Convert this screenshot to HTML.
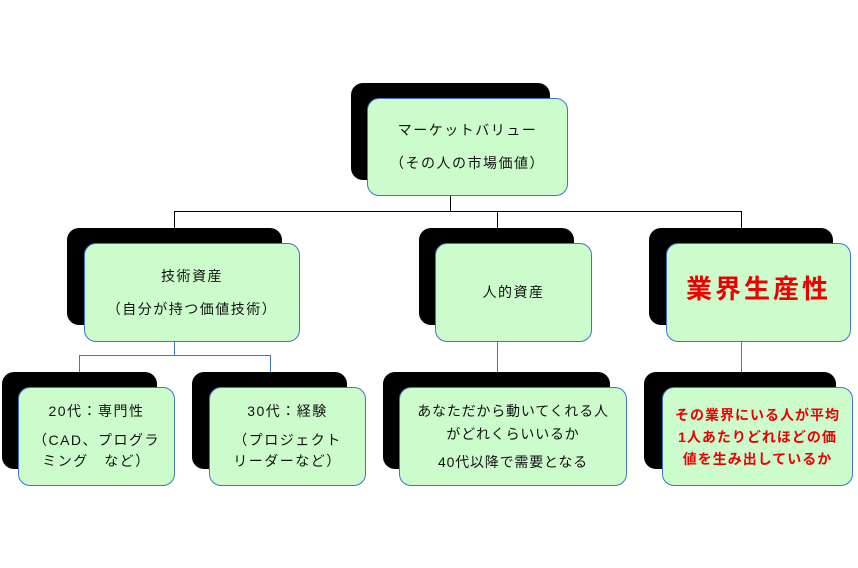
<!DOCTYPE html>
<html><head><meta charset="utf-8"><style>
body{margin:0;width:858px;height:568px;background:#fff;position:relative;overflow:hidden;font-family:"Liberation Sans","Noto Sans CJK JP",sans-serif;}
.b{position:absolute;background:#000;border-radius:12px;}
.g{position:absolute;background:#ccfccc;border:1px solid #4472c4;border-radius:12px;box-sizing:border-box;display:flex;flex-direction:column;justify-content:center;align-items:center;text-align:center;font-size:14px;color:#111;letter-spacing:1.5px;line-height:21px;}
.l{position:absolute;background:#4472c4;}
.k{position:absolute;background:#000;}
.r{color:#e00;font-weight:bold;}
</style></head><body>
<div class="k" style="left:450px;top:196px;width:1px;height:16px"></div>
<div class="k" style="left:174px;top:211px;width:568px;height:1px"></div>
<div class="k" style="left:174px;top:211px;width:1px;height:32px"></div>
<div class="k" style="left:497px;top:211px;width:1px;height:32px"></div>
<div class="k" style="left:741px;top:211px;width:1px;height:17px"></div>
<div class="l" style="left:174px;top:341px;width:1px;height:14px"></div>
<div class="l" style="left:79px;top:355px;width:192px;height:1px"></div>
<div class="l" style="left:79px;top:355px;width:1px;height:17px"></div>
<div class="l" style="left:270px;top:355px;width:1px;height:17px"></div>
<div class="l" style="left:497px;top:341px;width:1px;height:31px"></div>
<div class="l" style="left:741px;top:342px;width:1px;height:30px"></div>

<div class="b" style="left:351px;top:83px;width:199px;height:97px"></div>
<div class="g" style="left:367px;top:98px;width:201px;height:98px"><div style="margin-bottom:12px">マーケットバリュー</div><div>（その人の市場価値）</div></div>

<div class="b" style="left:67px;top:228px;width:215px;height:97px"></div>
<div class="g" style="left:84px;top:243px;width:216px;height:99px"><div style="margin-bottom:12px">技術資産</div><div>（自分が持つ価値技術）</div></div>

<div class="b" style="left:419px;top:228px;width:155px;height:97px"></div>
<div class="g" style="left:435px;top:243px;width:157px;height:99px"><div>人的資産</div></div>

<div class="b" style="left:649px;top:228px;width:184px;height:97px"></div>
<div class="g" style="left:666px;top:243px;width:185px;height:99px"><div class="r" style="font-size:26px;letter-spacing:3px;line-height:30px;margin-top:-8px">業界生産性</div></div>

<div class="b" style="left:2px;top:372px;width:155px;height:97px"></div>
<div class="g" style="left:18px;top:387px;width:157px;height:99px"><div style="margin-bottom:8px">20代：専門性</div><div>（CAD、プログラ<br>ミング　など）</div></div>

<div class="b" style="left:192px;top:372px;width:155px;height:97px"></div>
<div class="g" style="left:209px;top:387px;width:157px;height:99px"><div style="margin-bottom:8px">30代：経験</div><div>（プロジェクト<br>リーダーなど）</div></div>

<div class="b" style="left:383px;top:372px;width:227px;height:97px"></div>
<div class="g" style="left:399px;top:387px;width:228px;height:99px;letter-spacing:0.8px"><div style="line-height:23px">あなただから動いてくれる人<br>がどれくらいいるか</div><div style="margin-top:6px">40代以降で需要となる</div></div>

<div class="b" style="left:644px;top:372px;width:192px;height:97px"></div>
<div class="g" style="left:662px;top:387px;width:191px;height:99px;letter-spacing:1px"><div class="r" style="font-size:14px;line-height:22px">その業界にいる人が平均<br>1人あたりどれほどの価<br>値を生み出しているか</div></div>
</body></html>
